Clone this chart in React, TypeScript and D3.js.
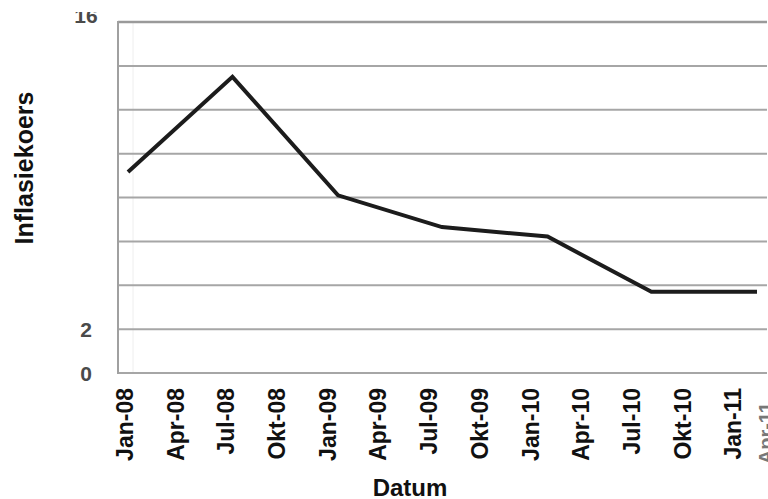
import React from "react";
import * as d3 from "d3";

const dates = ["2008-01", "2008-07", "2009-01", "2009-07", "2010-01", "2010-07", "2011-01"];
const inflation = [9.16, 13.5, 8.1, 6.65, 6.22, 3.7, 3.7];
const xTickLabels = ["Jan-08", "Apr-08", "Jul-08", "Okt-08", "Jan-09", "Apr-09", "Jul-09", "Okt-09", "Jan-10", "Apr-10", "Jul-10", "Okt-10", "Jan-11", "Apr-11"];
const yGridValues = [0, 2, 4, 6, 8, 10, 12, 14, 16];
const yTickLabels = [0, 2, 16];
const yTitle = "Inflasiekoers";
const xTitle = "Datum";

const W = 768;
const H = 499;

export default function App() {
  const parse = d3.timeParse("%Y-%m");
  const data = dates.map((d, i) => ({ date: parse(d) as Date, value: inflation[i] }));

  const x = d3.scaleTime().domain([parse(dates[0]) as Date, parse(dates[dates.length - 1]) as Date]).range([128, 757]);
  const xLab = d3.scalePoint<string>().domain(xTickLabels).range([125, 784]);
  const y = d3.scaleLinear().domain([0, 16]).range([373, 22]);

  const line = d3
    .line<{ date: Date; value: number }>()
    .x((d) => x(d.date))
    .y((d) => y(d.value));

  const font = "'Liberation Sans', Arial, sans-serif";

  return (
    <svg
      width={W}
      height={H}
      viewBox={`0 0 ${W} ${H}`}
      style={{ position: "absolute", left: 0, top: 0, background: "#fff" }}
    >
      <defs>
        <clipPath id="topclip">
          <rect x={0} y={12} width={W} height={H} />
        </clipPath>
      </defs>
      {/* faint inner vertical */}
      <line x1={133} x2={133} y1={y(16)} y2={y(0)} stroke="#eeeeee" strokeWidth={1} />
      {/* gridlines */}
      {yGridValues.map((v) => (
        <line
          key={v}
          x1={118}
          x2={767}
          y1={y(v)}
          y2={y(v)}
          stroke={v === 16 ? "#9a9a9a" : "#a6a6a6"}
          strokeWidth={v === 16 ? 2.5 : 2}
        />
      ))}
      {/* y axis line */}
      <line x1={118} x2={118} y1={y(16) - 1} y2={y(0) + 1} stroke="#a0a0a0" strokeWidth={2} />

      {/* data line */}
      <path d={line(data) || ""} fill="none" stroke="#1c1c1c" strokeWidth={4} strokeLinejoin="miter" />

      {/* y tick labels */}
      <g clipPath="url(#topclip)">
        {yTickLabels.map((v) => (
          <text
            key={v}
            x={86}
            y={v === 16 ? y(v) - 7 : y(v)}
            dy="0.36em"
            textAnchor="middle"
            fontFamily={font}
            fontWeight="bold"
            fontSize={21}
            fill="#4a4a4a"
          >
            {v}
          </text>
        ))}
      </g>

      {/* x tick labels */}
      {xTickLabels.map((lab) => {
        const cx = Math.min(xLab(lab) as number, W - 3);
        const last = cx >= W - 3;
        return (
          <text
            key={lab}
            transform={`translate(${cx + 8},${last ? 402 : 388}) rotate(-90)`}
            textAnchor="end"
            fontFamily={font}
            fontWeight="bold"
            fontSize={last ? 20 : 23}
            fill={last ? "#777" : "#111"}
          >
            {lab}
          </text>
        );
      })}

      {/* axis titles */}
      <text
        transform={`translate(33,168) rotate(-90)`}
        textAnchor="middle"
        fontFamily={font}
        fontWeight="bold"
        fontSize={25}
        fill="#111"
      >
        {yTitle}
      </text>
      <text x={410} y={496} textAnchor="middle" fontFamily={font} fontWeight="bold" fontSize={24} fill="#111">
        {xTitle}
      </text>
    </svg>
  );
}
